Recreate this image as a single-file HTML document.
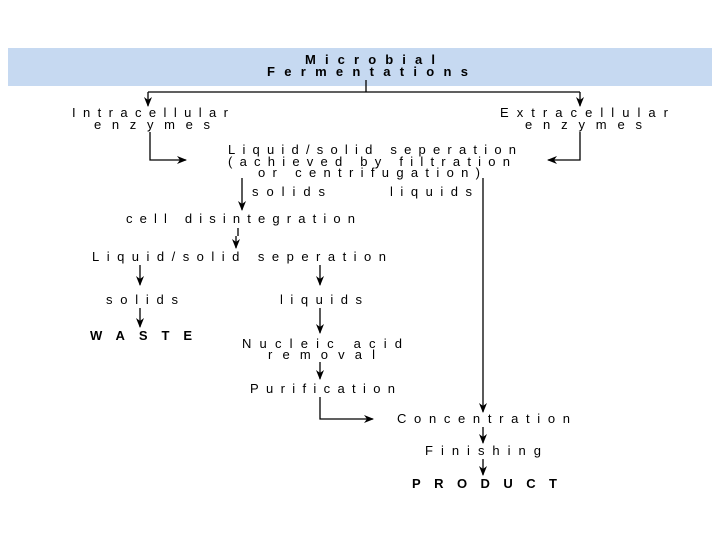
<!DOCTYPE html>
<html><head><meta charset="utf-8"><style>
html,body{margin:0;padding:0;background:#fff;}
svg{display:block;}
text{font-family:"Liberation Sans",sans-serif;font-size:13px;fill:#000;}
.b{font-weight:bold;fill:#000;}
</style></head><body>
<svg width="720" height="540" viewBox="0 0 720 540" xmlns="http://www.w3.org/2000/svg">
<defs>
<marker id="a" markerWidth="10" markerHeight="8" refX="9" refY="4" orient="auto" markerUnits="userSpaceOnUse">
<path d="M0,0 L10,4 L0,8 L3,4 Z" fill="#000"/>
</marker>
</defs>
<rect x="8" y="48" width="704" height="38" fill="#c6d9f1"/>
<text class="b" x="305" y="64" textLength="130" lengthAdjust="spacing">Microbial</text>
<text class="b" x="267" y="76" textLength="201" lengthAdjust="spacing">Fermentations</text>
<g stroke="#000" stroke-width="1.3" fill="none">
<line x1="366" y1="80" x2="366" y2="92"/>
<line x1="148" y1="92" x2="580" y2="92"/>
<line x1="148" y1="92" x2="148" y2="106" marker-end="url(#a)"/>
<line x1="580" y1="92" x2="580" y2="106" marker-end="url(#a)"/>
<polyline points="150,132 150,160 186,160" marker-end="url(#a)"/>
<polyline points="580,132 580,160 548,160" marker-end="url(#a)"/>
<line x1="242" y1="178" x2="242" y2="210" marker-end="url(#a)"/>
<line x1="483" y1="178" x2="483" y2="412" marker-end="url(#a)"/>
<line x1="238" y1="228" x2="238" y2="236"/>
<line x1="236" y1="236" x2="236" y2="248" marker-end="url(#a)"/>
<line x1="140" y1="265" x2="140" y2="285" marker-end="url(#a)"/>
<line x1="320" y1="265" x2="320" y2="285" marker-end="url(#a)"/>
<line x1="140" y1="308" x2="140" y2="327" marker-end="url(#a)"/>
<line x1="320" y1="308" x2="320" y2="333" marker-end="url(#a)"/>
<line x1="320" y1="362" x2="320" y2="379" marker-end="url(#a)"/>
<polyline points="320,397 320,419 373,419" marker-end="url(#a)"/>
<line x1="483" y1="427" x2="483" y2="443" marker-end="url(#a)"/>
<line x1="483" y1="459" x2="483" y2="475" marker-end="url(#a)"/>
</g>
<text x="72" y="117" textLength="156" lengthAdjust="spacing">Intracellular</text>
<text x="94" y="129" textLength="116" lengthAdjust="spacing">enzymes</text>
<text x="500" y="117" textLength="168" lengthAdjust="spacing">Extracellular</text>
<text x="525" y="129" textLength="117" lengthAdjust="spacing">enzymes</text>
<text x="228" y="154" textLength="288" lengthAdjust="spacing">Liquid/solid seperation</text>
<text x="228" y="166" textLength="282" lengthAdjust="spacing">(achieved by filtration</text>
<text x="258" y="177" textLength="222" lengthAdjust="spacing">or centrifugation)</text>
<text x="252" y="196" textLength="73" lengthAdjust="spacing">solids</text>
<text x="390" y="196" textLength="82" lengthAdjust="spacing">liquids</text>
<text x="126" y="223" textLength="229" lengthAdjust="spacing">cell disintegration</text>
<text x="92" y="261" textLength="294" lengthAdjust="spacing">Liquid/solid seperation</text>
<text x="106" y="304" textLength="72" lengthAdjust="spacing">solids</text>
<text x="280" y="304" textLength="82" lengthAdjust="spacing">liquids</text>
<text class="b" x="90" y="340" textLength="102" lengthAdjust="spacing">WASTE</text>
<text x="242" y="348" textLength="160" lengthAdjust="spacing">Nucleic acid</text>
<text x="268" y="359" textLength="107" lengthAdjust="spacing">removal</text>
<text x="250" y="393" textLength="145" lengthAdjust="spacing">Purification</text>
<text x="397" y="423" textLength="173" lengthAdjust="spacing">Concentration</text>
<text x="425" y="455" textLength="116" lengthAdjust="spacing">Finishing</text>
<text class="b" x="412" y="488" textLength="145" lengthAdjust="spacing">PRODUCT</text>
</svg>
</body></html>
